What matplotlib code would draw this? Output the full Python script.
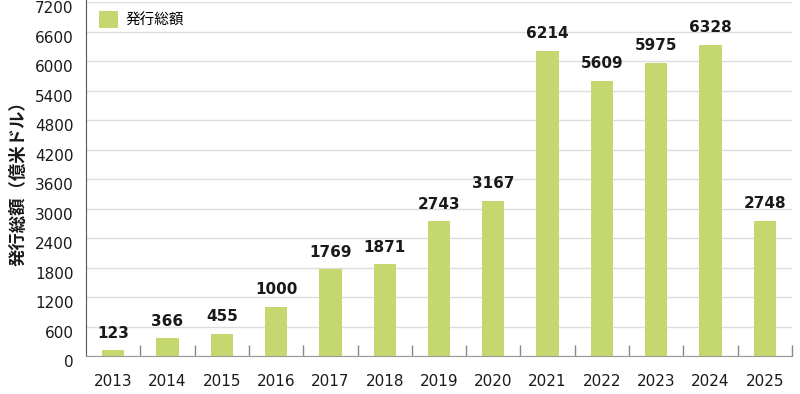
import matplotlib.pyplot as plt
import matplotlib.transforms as mtransforms
from matplotlib.ticker import MultipleLocator

plt.rcParams['font.family'] = ['Noto Sans CJK JP', 'DejaVu Sans']

years = ["2013", "2014", "2015", "2016", "2017", "2018", "2019",
         "2020", "2021", "2022", "2023", "2024", "2025"]
issuance = [123, 366, 455, 1000, 1769, 1871, 2743, 3167, 6214, 5609, 5975, 6328, 2748]

BAR_COLOR = "#c5d86f"
NUM_FONT = "DejaVu Sans"

fig = plt.figure(figsize=(8, 3.94), dpi=100)
ax = fig.add_axes([0.1075, 0.0957, 0.8825, 0.8985])

x = range(len(years))
ax.bar(x, issuance, width=0.41, color=BAR_COLOR, label="発行総額", zorder=3)

for xi, v in zip(x, issuance):
    ax.annotate(str(v), (xi, v), xytext=(0, 7), textcoords="offset points",
                ha="center", va="bottom", fontsize=11, fontweight="bold",
                family=NUM_FONT, color="#1a1a1a")

ax.set_xlim(-0.5, len(years) - 0.5)
ax.set_ylim(0, 7200)
ax.yaxis.set_major_locator(MultipleLocator(600))
ax.grid(axis="y", color="#dddddd", linewidth=1, zorder=0)

ax.set_xticks(list(x))
ax.set_xticklabels(years)
ax.set_xticks([i + 0.5 for i in range(len(years))], minor=True)
ax.tick_params(axis="x", which="major", length=0, pad=13, labelsize=11, labelcolor="#1a1a1a")
ax.tick_params(axis="x", which="minor", direction="in", length=8, color="#888888", width=1)
ax.tick_params(axis="y", length=0, pad=9, labelsize=11, labelcolor="#1a1a1a")
shift = mtransforms.ScaledTranslation(0, -5 / 100, fig.dpi_scale_trans)
for lab in ax.get_yticklabels():
    lab.set_family(NUM_FONT)
    lab.set_transform(lab.get_transform() + shift)
for lab in ax.get_xticklabels():
    lab.set_family(NUM_FONT)

for side in ["top", "right"]:
    ax.spines[side].set_visible(False)
ax.spines["left"].set_color("#555555")
ax.spines["left"].set_bounds(0, 7400)
ax.spines["bottom"].set_color("#999999")

ax.set_ylabel("発行総額（億米ドル）", fontsize=12.5, fontweight="bold", color="#1a1a1a", labelpad=5)

ax.legend(loc="upper left", frameon=False, fontsize=10.5, handlelength=1.3, handleheight=1.4,
          handletextpad=0.5, bbox_to_anchor=(0.0, 1.012))

fig.savefig("out.png", dpi=100)
